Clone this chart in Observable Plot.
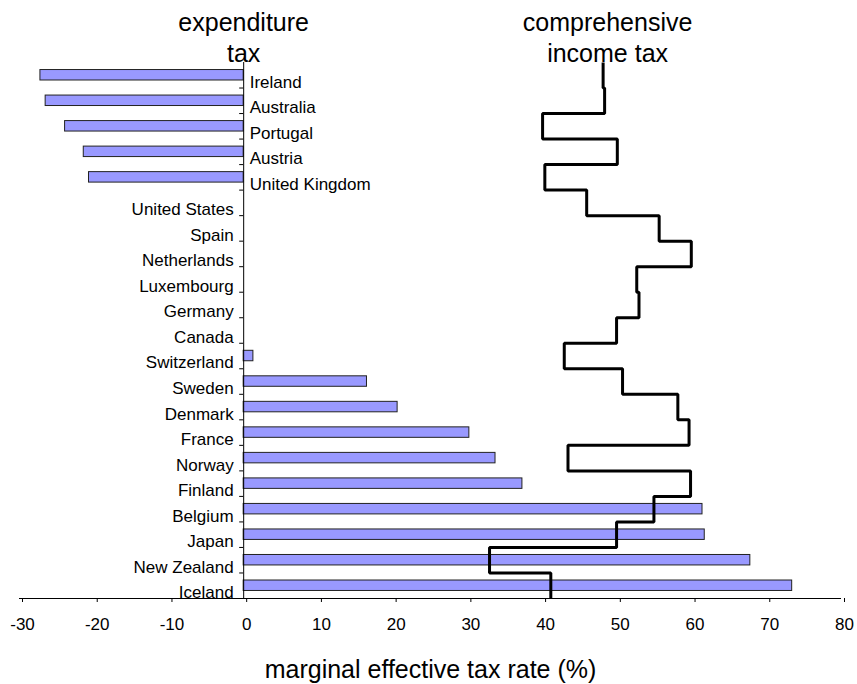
<!DOCTYPE html>
<html>
<head>
<meta charset="utf-8">
<script src="https://cdn.jsdelivr.net/npm/d3@7"></script>
<script src="https://cdn.jsdelivr.net/npm/@observablehq/plot@0.6"></script>
<style>
  html, body { margin: 0; padding: 0; background: #fff; }
</style>
</head>
<body>
<div id="chart"></div>
<script>
const countries = ["Ireland","Australia","Portugal","Austria","United Kingdom","United States","Spain","Netherlands","Luxembourg","Germany","Canada","Switzerland","Sweden","Denmark","France","Norway","Finland","Belgium","Japan","New Zealand","Iceland"];
const expenditureTax = [-27.2,-26.5,-23.9,-21.4,-20.7,0,0,0,0,0,0,1.3,16.5,20.6,30.2,33.7,37.3,61.4,61.7,67.8,73.4];
const incomeTax = [48.1,48.3,40.0,50.0,40.3,45.9,55.6,59.9,52.6,52.9,49.9,42.9,50.7,58.1,59.6,43.4,59.8,54.9,49.9,32.9,41.1];
const xTicks = [-30,-20,-10,0,10,20,30,40,50,60,70,80];
const seriesTitles = [
  {text: "expenditure\ntax", x: 0},
  {text: "comprehensive\nincome tax", x: 48.7}
];
const xLabel = "marginal effective tax rate (%)";

const rows = countries.map((c, i) => ({country: c, i, exp: expenditureTax[i], inc: incomeTax[i]}));
const barRows = rows.filter(d => d.exp !== 0);
const rightLabels = rows.filter(d => d.exp < 0);
const leftLabels = rows.filter(d => d.exp >= 0);
const stepPts = rows.flatMap(d => [{x: d.inc, y: d.i - 0.5}, {x: d.inc, y: d.i + 0.5}]);
const boundaries = d3.range(0.5, countries.length - 0.5, 1);
const n = countries.length;
const font = "'Liberation Sans', Arial, Helvetica, sans-serif";

const chart = Plot.plot({
  width: 857,
  height: 684,
  marginLeft: 19,
  marginRight: 16,
  marginTop: 62,
  marginBottom: 86,
  style: {fontFamily: font, color: "#000", background: "#fff"},
  x: {domain: [-30, 80], axis: null},
  y: {domain: [n - 0.5, -0.5], axis: null},
  marks: [
    Plot.rectX(barRows, {x1: 0, x2: "exp", y1: d => d.i - 0.205, y2: d => d.i + 0.205, fill: "#9999ff", stroke: "#222", strokeWidth: 1}),
    Plot.ruleX([0], {y1: -0.5, y2: n - 0.5, stroke: "#000", strokeWidth: 1}),
    Plot.ruleY(boundaries, {y: d => d, x1: 0, x2: 0, insetLeft: -4, stroke: "#000", strokeWidth: 1}),
    Plot.ruleY([n - 0.5], {stroke: "#000", strokeWidth: 1}),
    Plot.axisX({ticks: xTicks, tickSize: 4, tickPadding: 15, fontSize: 17, dx: 3, tickFormat: d => String(d), label: null, fontFamily: font}),
    Plot.lineX(stepPts, {x: "x", y: "y", stroke: "#000", strokeWidth: 3, strokeLinejoin: "miter", strokeLinecap: "butt"}),
    Plot.text(rightLabels, {x: 0, y: "i", text: "country", textAnchor: "start", dx: 6, dy: 7, fontSize: 17}),
    Plot.text(leftLabels, {x: 0, y: "i", text: "country", textAnchor: "end", dx: -10, dy: 7, fontSize: 17}),
    Plot.text(seriesTitles, {x: "x", y: -0.5, text: "text", fontSize: 25, lineAnchor: "bottom", lineHeight: 1.22, dy: -1}),
    Plot.text([xLabel], {frameAnchor: "bottom", lineAnchor: "bottom", dy: 79, fontSize: 25})
  ]
});
document.getElementById("chart").appendChild(chart);
</script>
</body>
</html>
